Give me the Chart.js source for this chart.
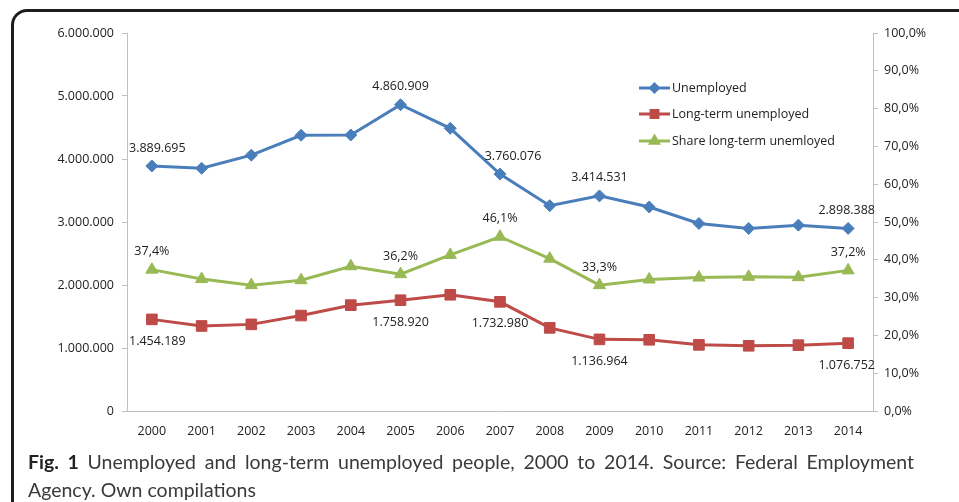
<!DOCTYPE html>
<html>
<head>
<meta charset="utf-8">
<script src="https://cdn.jsdelivr.net/npm/chart.js@4/dist/chart.umd.min.js"></script>
<style>
  html, body { margin: 0; padding: 0; background: #fff; width: 959px; height: 502px; overflow: hidden; }
  #frame { position: absolute; left: 11px; top: 9px; width: 1000px; height: 600px; border: 3px solid #1e1e1e; border-radius: 16px; box-sizing: border-box; }
  #wrap { position: absolute; left: 0; top: 0; width: 959px; height: 502px; }
  #caption { position: absolute; left: 28px; top: 448px; width: 886px; font-family: "Lato", "Open Sans", sans-serif; font-size: 19.5px; color: #3a3a3a; line-height: 28px; }
  #caption .l1 { text-align: justify; text-align-last: justify; white-space: nowrap; }
  #caption b { color: #222; }
</style>
</head>
<body>
<div id="frame"></div>
<div id="wrap"><canvas id="c" width="959" height="502"></canvas></div>
<div id="caption">
  <div class="l1" id="l1"><b>Fig. 1</b> Unemployed and long-term unemployed people, 2000 to 2014. Source: Federal Employment</div>
  <div>Agency. Own compilations</div>
</div>
<script>
const years = ["2000","2001","2002","2003","2004","2005","2006","2007","2008","2009","2010","2011","2012","2013","2014"];
const unemployed = [3889695, 3852564, 4061345, 4376795, 4381040, 4860909, 4487305, 3760076, 3258954, 3414531, 3238421, 2976488, 2897126, 2950338, 2898388];
const longTerm = [1454189, 1350000, 1375000, 1515000, 1680000, 1758920, 1845000, 1732980, 1320000, 1136964, 1130000, 1050000, 1035000, 1045000, 1076752];
const sharePct = [37.4, 34.9, 33.3, 34.6, 38.3, 36.2, 41.3, 46.1, 40.3, 33.3, 34.8, 35.3, 35.5, 35.4, 37.2];
const seriesNames = ["Unemployed", "Long-term unemployed", "Share long-term unemloyed"];
const leftTicks = [0, 1000000, 2000000, 3000000, 4000000, 5000000, 6000000];
const rightTicks = [0, 10, 20, 30, 40, 50, 60, 70, 80, 90, 100];
const labeledIdx = [0, 5, 7, 9, 14];

const FONT = '"Open Sans", "Liberation Sans", sans-serif';
const fmtInt = v => Math.round(v).toString().replace(/\B(?=(\d{3})+(?!\d))/g, ".");
const fmtPct = v => v.toFixed(1).replace(".", ",") + "%";

// label placement per series: dy relative to point, and special dx tweaks
const labelPlacement = [
  { dy: -18, dx: {7: 13} , fmt: fmtInt },
  { dy: 22, dx: {}, fmt: fmtInt },
  { dy: -18, dx: {}, fmt: fmtPct }
];

const labelPlugin = {
  id: 'valLabels',
  afterDatasetsDraw(chart) {
    const ctx = chart.ctx;
    const ca = chart.chartArea;
    ctx.save();
    ctx.font = '12.5px ' + FONT;
    ctx.fillStyle = '#222';
    ctx.textBaseline = 'middle';
    ctx.textAlign = 'left';
    chart.data.datasets.forEach((ds, di) => {
      const meta = chart.getDatasetMeta(di);
      const pl = labelPlacement[di];
      labeledIdx.forEach(i => {
        const pt = meta.data[i];
        const txt = pl.fmt(ds.data[i]);
        const w = ctx.measureText(txt).width;
        let x = pt.x - w / 2 + (pl.dx[i] || 0);
        if (x < ca.left + 2) x = ca.left + 2;
        if (x + w > ca.right + 2) x = ca.right + 2 - w;
        ctx.fillText(txt, x, pt.y + pl.dy);
      });
    });
    ctx.restore();
  }
};

const legendPlugin = {
  id: 'customLegend',
  afterDraw(chart) {
    const ctx = chart.ctx;
    const x0 = 639, x1 = 670, ys = [88, 114, 141];
    ctx.save();
    chart.data.datasets.forEach((ds, di) => {
      const y = ys[di];
      ctx.strokeStyle = ds.borderColor;
      ctx.lineWidth = 3;
      ctx.beginPath(); ctx.moveTo(x0, y); ctx.lineTo(x1, y); ctx.stroke();
      Chart.helpers.drawPoint(ctx, { pointStyle: ds.pointStyle, radius: ds.pointRadius * 0.65, borderWidth: 1 }, (x0 + x1) / 2, y);
      ctx.fillStyle = ds.borderColor;
      ctx.fill();
      ctx.fillStyle = '#222';
      ctx.font = '12.5px ' + FONT;
      ctx.textBaseline = 'middle';
      ctx.textAlign = 'left';
      ctx.fillText(ds.label, x1 + 2, y);
    });
    ctx.restore();
  }
};

new Chart(document.getElementById('c'), {
  type: 'line',
  data: {
    labels: years,
    datasets: [
      { label: seriesNames[0], data: unemployed, yAxisID: 'y', borderColor: '#4a7ebb', backgroundColor: '#4a7ebb', borderWidth: 3, pointStyle: 'rectRot', pointRadius: 6, pointBorderWidth: 1, tension: 0 },
      { label: seriesNames[1], data: longTerm, yAxisID: 'y', borderColor: '#be4b48', backgroundColor: '#be4b48', borderWidth: 3, pointStyle: 'rect', pointRadius: 7.5, pointBorderWidth: 1, tension: 0 },
      { label: seriesNames[2], data: sharePct, yAxisID: 'y2', borderColor: '#98b954', backgroundColor: '#98b954', borderWidth: 3, pointStyle: 'triangle', pointRadius: 7, pointBorderWidth: 1, tension: 0 }
    ]
  },
  options: {
    responsive: false,
    animation: false,
    layout: { autoPadding: false, padding: { left: 0, top: 33, right: 0, bottom: 0 } },
    plugins: { legend: { display: false }, tooltip: { enabled: false } },
    scales: {
      x: {
        offset: true,
        grid: { display: true, drawOnChartArea: false, drawTicks: false },
        border: { color: '#bfbfbf', width: 1 },
        ticks: { color: '#222', font: { family: FONT, size: 12.5 }, padding: 13, maxRotation: 0, autoSkip: false },
        afterFit(s) { s.height = 91; }
      },
      y: {
        position: 'left',
        min: 0, max: 6000000,
        afterBuildTicks(s) { s.ticks = leftTicks.map(v => ({ value: v })); },
        grid: { drawOnChartArea: false, tickLength: 5, color: '#bfbfbf' },
        border: { color: '#bfbfbf', width: 1 },
        ticks: { color: '#222', font: { family: FONT, size: 12.5 }, padding: 8, callback: v => fmtInt(v) },
        afterFit(s) { s.width = 127; }
      },
      y2: {
        position: 'right',
        min: 0, max: 100,
        afterBuildTicks(s) { s.ticks = rightTicks.map(v => ({ value: v })); },
        grid: { drawOnChartArea: false, tickLength: 5, color: '#bfbfbf' },
        border: { color: '#bfbfbf', width: 1 },
        ticks: { color: '#222', font: { family: FONT, size: 12.5 }, padding: 6, callback: v => fmtPct(v) },
        afterFit(s) { s.width = 86; }
      }
    }
  },
  plugins: [labelPlugin, legendPlugin]
});
</script>
</body>
</html>
